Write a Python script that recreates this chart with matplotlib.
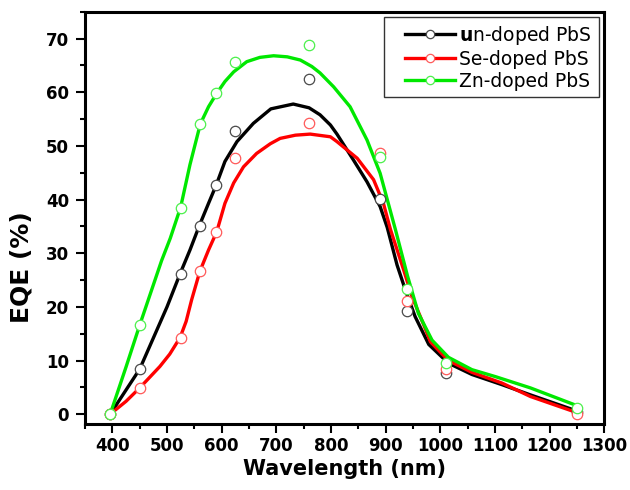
import matplotlib
matplotlib.use("Agg")
import matplotlib.pyplot as plt
from matplotlib.lines import Line2D
from matplotlib.legend_handler import HandlerLine2D
from matplotlib.ticker import MultipleLocator


# measured points (open circles)
wavelength = [395, 450, 525, 560, 590, 625, 760, 890, 940, 1010, 1250]
eqe_undoped = [0, 8.4, 26.2, 35.1, 42.7, 52.7, 62.5, 40.1, 19.3, 7.7, 0.5]
eqe_se = [0, 4.8, 14.2, 26.6, 34.0, 47.7, 54.3, 48.6, 21.1, 8.5, 0.0]
eqe_zn = [0, 16.6, 38.5, 54.1, 59.8, 65.7, 68.8, 48.0, 23.4, 9.6, 1.2]

# fitted curves
fit_wl_undoped = [396, 450, 475, 500, 524, 542, 559, 576, 590, 606, 628, 658, 690, 731, 760,
                  780, 799, 811, 841, 866, 890, 903, 921, 937, 954, 979, 1015, 1058, 1113, 1165, 1250]
fit_undoped = [0, 8.4, 14.2, 20.0, 26.2, 30.6, 35.1, 39.3, 42.7, 47.1, 50.8, 54.2, 56.9, 57.8, 57.1,
               55.8, 53.9, 52.2, 47.4, 43.3, 38.7, 34.8, 27.8, 22.9, 18.2, 13.0, 9.5, 7.4, 5.5, 3.6, 0.6]

fit_wl_se = [396, 425, 450, 487, 505, 524, 535, 545, 560, 576, 591, 606, 622, 640, 664, 689, 707, 735,
             762, 799, 811, 848, 878, 896, 909, 933, 948, 970, 982, 1015, 1058, 1113, 1165, 1250]
fit_se = [0, 2.4, 4.9, 8.9, 11.2, 14.3, 17.3, 21.3, 26.6, 30.6, 34.0, 39.3, 43.1, 46.1, 48.6, 50.4, 51.4, 52.0,
          52.2, 51.7, 50.8, 47.7, 43.7, 39.3, 34.4, 26.9, 22.0, 16.6, 13.5, 10.0, 7.8, 5.8, 3.3, 0.3]

fit_wl_zn = [396, 425, 450, 490, 506, 525, 542, 561, 576, 591, 606, 622, 646, 670, 695, 720, 744,
             765, 780, 805, 835, 866, 890, 918, 940, 960, 985, 1015, 1058, 1101, 1165, 1250]
fit_zn = [0, 8.8, 16.6, 28.6, 32.8, 38.6, 46.5, 54.1, 57.3, 59.8, 62.0, 63.8, 65.7, 66.5, 66.8, 66.6, 66.0,
          64.8, 63.6, 61.0, 57.3, 51.1, 44.9, 34.4, 25.8, 18.8, 13.8, 10.6, 8.3, 7.0, 4.9, 1.6]

series = [
    ("$\\mathbf{u}$n-doped PbS", fit_wl_undoped, fit_undoped, eqe_undoped, "black", "#4a4a4a"),
    ("Se-doped PbS", fit_wl_se, fit_se, eqe_se, "#ff0000", "#ff5a5a"),
    ("Zn-doped PbS", fit_wl_zn, fit_zn, eqe_zn, "#00e800", "#4cf04c"),
]


class ShiftedLine(HandlerLine2D):
    # legend sample drawn only over the right part of the handle box
    def __init__(self, shift, **kw):
        super().__init__(**kw)
        self.shift = shift

    def create_artists(self, legend, orig_handle, xdescent, ydescent, width, height, fontsize, trans):
        return super().create_artists(legend, orig_handle, xdescent - self.shift, ydescent,
                                      width - self.shift, height, fontsize, trans)


plt.rcParams["mathtext.fontset"] = "dejavusans"

fig = plt.figure(figsize = (6.3, 4.9), dpi = 100)
ax = fig.add_axes([0.135, 0.135, 0.824, 0.841])

handles = []
for label, fx, fy, pts, color, mcolor in series:
    ax.plot(fx, fy, color = color, lw = 2.4, zorder = 2)
    ax.plot(wavelength, pts, ls = "none", marker = "o", ms = 7.5, mfc = "white",
            mec = mcolor, mew = 0.9, zorder = 3)
    handles.append(Line2D([], [], color = color, lw = 2.4, marker = "o", ms = 6,
                          mfc = "white", mec = mcolor, mew = 0.9, label = label))

ax.set_xlim(350, 1300)
ax.set_ylim(-1.8, 75)
ax.xaxis.set_major_locator(MultipleLocator(100))
ax.xaxis.set_minor_locator(MultipleLocator(50))
ax.yaxis.set_major_locator(MultipleLocator(10))
ax.yaxis.set_minor_locator(MultipleLocator(5))

ax.tick_params(which = "major", direction = "out", length = 6.5, width = 1.5, labelsize = 12, pad = 3)
ax.tick_params(axis = "y", which = "major", pad = 5)
ax.tick_params(which = "minor", direction = "out", length = 3.6, width = 1.5)
for t in ax.get_xticklabels() + ax.get_yticklabels():
    t.set_fontweight("bold")
for s in ax.spines.values():
    s.set_linewidth(2.2)

ax.set_xlabel("Wavelength (nm)", fontsize = 15, fontweight = "bold", labelpad = 3)
ax.set_ylabel("EQE (%)", fontsize = 18, fontweight = "bold")
ax.yaxis.set_label_coords(-0.1, 0.38)

leg = ax.legend(handles = handles, loc = "upper right", fontsize = 13.5, frameon = True,
                fancybox = False, framealpha = 1, edgecolor = "#333333", numpoints = 1,
                handlelength = 3.4, handletextpad = 0.25, labelspacing = 0.15,
                borderpad = 0.35, borderaxespad = 0.3,
                handler_map = {Line2D: ShiftedLine(10)})
leg.get_frame().set_linewidth(1.0)

fig.savefig("out.png", dpi = 100)
